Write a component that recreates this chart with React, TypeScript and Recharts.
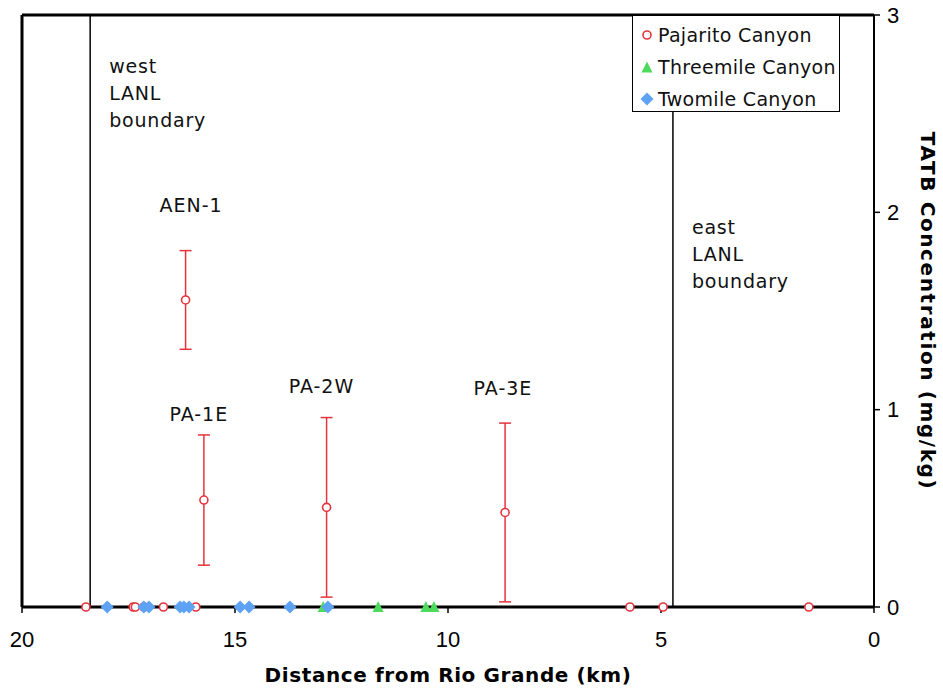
import React from "react";
import {
  ScatterChart,
  Scatter,
  XAxis,
  YAxis,
  ErrorBar,
  ReferenceLine,
  ReferenceDot,
  Legend,
} from "recharts";

// distance from Rio Grande (km) / TATB (mg/kg); error is a symmetric +/- half range
const PAJARITO_X = [18.5, 17.39, 17.34, 17.14, 16.68, 15.92, 16.16, 15.73, 12.85, 8.66, 5.73, 4.95, 1.53];
const PAJARITO_Y = [0, 0, 0, 0, 0, 0, 1.556, 0.542, 0.505, 0.479, 0, 0, 0];
const PAJARITO_ERR = [null, null, null, null, null, null, 0.25, 0.33, 0.455, 0.453, null, null, null];

const THREEMILE_X = [12.93, 11.64, 10.52, 10.33];
const THREEMILE_Y = [0, 0, 0, 0];

const TWOMILE_X = [18.0, 17.14, 17.02, 16.29, 16.2, 16.08, 14.88, 14.67, 13.71, 12.82];
const TWOMILE_Y = [0, 0, 0, 0, 0, 0, 0, 0, 0, 0];

const SITE_LABELS = ["AEN-1", "PA-1E", "PA-2W", "PA-3E"];
const SITE_LABEL_X = [16.03, 15.85, 12.97, 8.71];
const SITE_LABEL_Y = [2.035, 0.978, 1.117, 1.11];

const WEST_BOUNDARY = 18.4;
const EAST_BOUNDARY = 4.72;
const BOUNDARY_WEST_TEXT = ["west", "LANL", "boundary"];
const BOUNDARY_EAST_TEXT = ["east", "LANL", "boundary"];

const X_TICKS = [0, 5, 10, 15, 20];
const Y_TICKS = [0, 1, 2, 3];

const RED = "#e4343d";
const GREEN = "#4cdb5c";
const BLUE = "#5ea2f4";

const TEXT_FONT = "'DejaVu Sans', Verdana, sans-serif";
const TICK_FONT = "'Liberation Sans', Arial, sans-serif";

const pajarito = PAJARITO_X.map((x, i) => ({ x, y: PAJARITO_Y[i], err: PAJARITO_ERR[i] }));
const threemile = THREEMILE_X.map((x, i) => ({ x, y: THREEMILE_Y[i] }));
const twomile = TWOMILE_X.map((x, i) => ({ x, y: TWOMILE_Y[i] }));

const CircleMark = (p: any) => (
  <circle cx={p.cx} cy={p.cy} r={4} fill="#fff" stroke={RED} strokeWidth={1.6} />
);
const TriangleMark = (p: any) => (
  <path d={`M${p.cx},${p.cy - 6}L${p.cx + 5.5},${p.cy + 5}L${p.cx - 5.5},${p.cy + 5}Z`} fill={GREEN} />
);
const DiamondMark = (p: any) => (
  <path d={`M${p.cx},${p.cy - 6.5}L${p.cx + 6.5},${p.cy}L${p.cx},${p.cy + 6.5}L${p.cx - 6.5},${p.cy}Z`} fill={BLUE} />
);

function boundaryLabel(lines: string[], firstBaseline: number) {
  return (props: any) => {
    const vb = props.viewBox || {};
    return (
      <text fontFamily={TEXT_FONT} fontSize={19} letterSpacing={0.8} fill="#111">
        {lines.map((l, i) => (
          <tspan key={i} x={vb.x + 19} y={vb.y + firstBaseline + i * 27}>
            {l}
          </tspan>
        ))}
      </text>
    );
  };
}

const LEGEND_ROWS = [
  { name: "Pajarito Canyon", mark: "circle" },
  { name: "Threemile Canyon", mark: "triangle" },
  { name: "Twomile Canyon", mark: "diamond" },
];

function LegendBox() {
  return (
    <div
      style={{
        position: "relative",
        width: 208,
        height: 97,
        boxSizing: "border-box",
        border: "1px solid #000",
        background: "#fff",
      }}
    >
      {LEGEND_ROWS.map((r, i) => (
        <div
          key={r.name}
          style={{
            position: "absolute",
            left: 6,
            top: 7 + i * 32,
            height: 24,
            display: "flex",
            alignItems: "center",
            fontFamily: TEXT_FONT,
            fontSize: 19,
            letterSpacing: 0.3,
            color: "#111",
            whiteSpace: "nowrap",
          }}
        >
          <svg width={16} height={16} style={{ marginRight: 3 }}>
            {r.mark === "circle" && <CircleMark cx={8} cy={8} />}
            {r.mark === "triangle" && <TriangleMark cx={8} cy={8.5} />}
            {r.mark === "diamond" && <DiamondMark cx={8} cy={8} />}
          </svg>
          {r.name}
        </div>
      ))}
    </div>
  );
}

export default function App() {
  return (
    <div style={{ position: "absolute", left: 0, top: 0, width: 943, height: 689, background: "#fff" }}>
      <ScatterChart width={943} height={689} margin={{ top: 15, right: 0, bottom: 0, left: 22 }}>
        <XAxis
          type="number"
          dataKey="x"
          domain={[0, 20]}
          reversed
          ticks={X_TICKS}
          height={82}
          axisLine={{ stroke: "#000", strokeWidth: 3 }}
          tickLine={{ stroke: "#000", strokeWidth: 1.5 }}
          tickSize={6}
          tickMargin={18}
          tick={{ fill: "#000", fontSize: 22, fontFamily: TICK_FONT }}
          label={{
            value: "Distance from Rio Grande (km)",
            position: "insideBottom",
            offset: 7,
            fill: "#000",
            fontSize: 20,
            fontWeight: "bold",
            fontFamily: TEXT_FONT,
            letterSpacing: 0.6,
          }}
        />
        <YAxis
          type="number"
          dataKey="y"
          orientation="right"
          domain={[0, 3]}
          ticks={Y_TICKS}
          width={69}
          axisLine={{ stroke: "#000", strokeWidth: 2 }}
          tickLine={{ stroke: "#000", strokeWidth: 1.5 }}
          tickSize={6}
          tickMargin={7}
          tick={{ fill: "#000", fontSize: 22, fontFamily: TICK_FONT }}
          label={{
            value: "TATB Concentration (mg/kg)",
            angle: 90,
            position: "center",
            dx: 20,
            fill: "#000",
            fontSize: 20,
            fontWeight: "bold",
            fontFamily: TEXT_FONT,
            letterSpacing: 1.6,
          }}
        />
        <ReferenceLine y={3} stroke="#000" strokeWidth={3} />
        <ReferenceLine x={20} stroke="#000" strokeWidth={3} />
        <ReferenceLine
          x={WEST_BOUNDARY}
          stroke="#000"
          strokeWidth={1.5}
          label={boundaryLabel(BOUNDARY_WEST_TEXT, 58)}
        />
        <ReferenceLine
          x={EAST_BOUNDARY}
          stroke="#000"
          strokeWidth={1.5}
          label={boundaryLabel(BOUNDARY_EAST_TEXT, 219)}
        />
        {SITE_LABELS.map((s, i) => (
          <ReferenceDot
            key={s}
            x={SITE_LABEL_X[i]}
            y={SITE_LABEL_Y[i]}
            r={0}
            fill="none"
            stroke="none"
            label={{
              value: s,
              position: "center",
              fill: "#111",
              fontSize: 19,
              fontFamily: TEXT_FONT,
              letterSpacing: 1,
            }}
          />
        ))}
        <Scatter name="Pajarito Canyon" data={pajarito} shape={CircleMark} isAnimationActive={false}>
          <ErrorBar dataKey="err" direction="y" width={6} stroke={RED} strokeWidth={1.5} />
        </Scatter>
        <Scatter name="Threemile Canyon" data={threemile} shape={TriangleMark} isAnimationActive={false} />
        <Scatter name="Twomile Canyon" data={twomile} shape={DiamondMark} isAnimationActive={false} />
        <Legend
          layout="vertical"
          verticalAlign="middle"
          align="center"
          content={() => <LegendBox />}
          wrapperStyle={{ top: 15, left: 632, width: 208, height: 97 }}
        />
      </ScatterChart>
    </div>
  );
}
